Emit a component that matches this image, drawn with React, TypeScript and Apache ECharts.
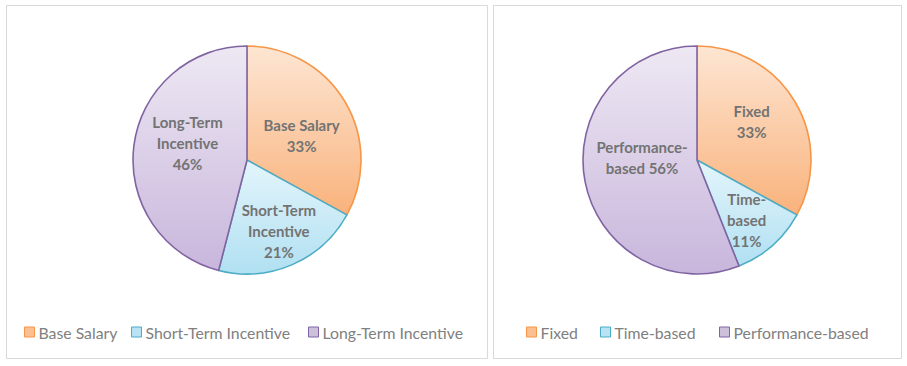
import React, { useEffect, useRef } from "react";
import * as echarts from "echarts";

// Left chart: pay mix
const payCategories = ["Base Salary", "Short-Term Incentive", "Long-Term Incentive"];
const payValues = [33, 21, 46];
const payLabelNames = ["Base Salary\n", "Short-Term\nIncentive\n", "Long-Term\nIncentive\n"];

// Right chart: vesting mix
const vestCategories = ["Fixed", "Time-based", "Performance-based"];
const vestValues = [33, 11, 56];
const vestLabelNames = ["Fixed\n", "Time-\nbased\n", "Performance-\nbased "];

const fills: [string, string][] = [
  ["#fde6d3", "#f9b27c"],
  ["#e4f5fb", "#b0e0f2"],
  ["#eee8f3", "#c8b6dc"],
];
const borders = ["#f79646", "#4bacc6", "#8064a2"];
const legendFills = ["#fac090", "#b7e3f4", "#ccc0da"];

const payOffsets: [number, number][] = [[3, 6], [8, 16], [0, -9]];
const vestOffsets: [number, number][] = [[3, -8], [10, 15], [4, -14]];

const grad = (i: number) =>
  new echarts.graphic.LinearGradient(0, 0, 0, 1, [
    { offset: 0, color: fills[i][0] },
    { offset: 1, color: fills[i][1] },
  ]);

const FONT = "Lato, 'Open Sans', sans-serif";

function makePie(
  names: string[],
  values: number[],
  labelNames: string[],
  offsets: [number, number][],
  center: [number, number]
) {
  return {
    type: "pie",
    center,
    radius: 114,
    startAngle: 90,
    clockwise: true,
    silent: true,
    emphasis: { disabled: true },
    data: names.map((n, i) => ({
      name: n,
      value: values[i],
      itemStyle: { color: grad(i), borderColor: borders[i], borderWidth: 1.6 },
      label: { offset: offsets[i] },
    })),
    label: {
      show: true,
      position: "inside",
      formatter: (p: any) => labelNames[p.dataIndex] + Math.round(p.percent) + "%",
      fontFamily: FONT,
      fontWeight: "bold",
      fontSize: 15,
      lineHeight: 21,
      color: "#737373",
      align: "center",
    },
    labelLine: { show: false },
  };
}

function makeLegend(name: string, i: number, left: number) {
  return {
    data: [
      {
        name,
        itemStyle: { color: legendFills[i], borderColor: borders[i], borderWidth: 1 },
      },
    ],
    left,
    top: 324,
    padding: 0,
    icon: "rect",
    itemWidth: 10,
    itemHeight: 10,
    selectedMode: false,
    textStyle: { fontFamily: FONT, fontSize: 15.8, color: "#808080", padding: [0, 0, 0, -1] },
  };
}

const payLegendLefts = [24, 131, 308];
const vestLegendLefts = [526, 600, 719];

export default function App() {
  const ref = useRef<HTMLDivElement>(null);
  useEffect(() => {
    if (!ref.current) return;
    const chart = echarts.init(ref.current, undefined, { renderer: "svg" });
    chart.setOption({
      animation: false,
      backgroundColor: "#ffffff",
      graphic: [
        {
          type: "rect",
          z: -10,
          shape: { x: 6.5, y: 5.5, width: 481, height: 353 },
          style: { fill: "#ffffff", stroke: "#d9d9d9", lineWidth: 1 },
        },
        {
          type: "rect",
          z: -10,
          shape: { x: 493.5, y: 5.5, width: 408, height: 353 },
          style: { fill: "#ffffff", stroke: "#d9d9d9", lineWidth: 1 },
        },
      ],
      legend: [
        ...payCategories.map((n, i) => makeLegend(n, i, payLegendLefts[i])),
        ...vestCategories.map((n, i) => makeLegend(n, i, vestLegendLefts[i])),
      ],
      series: [
        makePie(payCategories, payValues, payLabelNames, payOffsets, [247, 160]),
        makePie(vestCategories, vestValues, vestLabelNames, vestOffsets, [697, 160]),
      ],
    });
    return () => chart.dispose();
  }, []);
  return (
    <div
      ref={ref}
      style={{ position: "absolute", left: 0, top: 0, width: 907, height: 366 }}
    />
  );
}
